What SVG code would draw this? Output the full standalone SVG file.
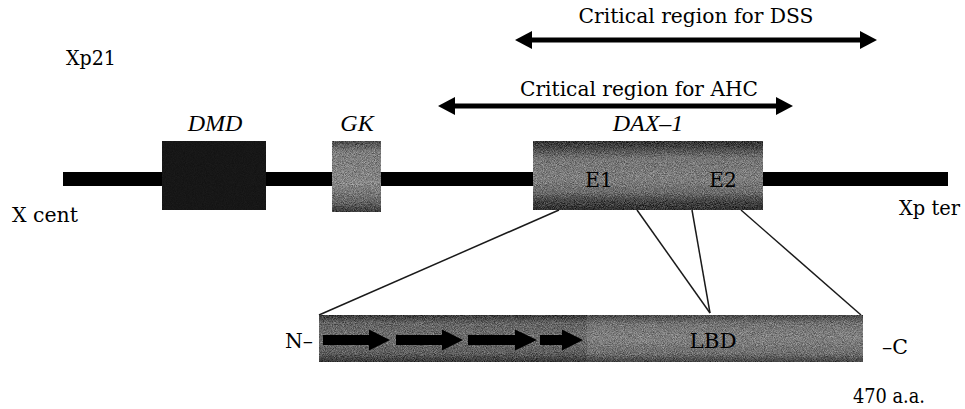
<svg xmlns="http://www.w3.org/2000/svg" width="965" height="409" viewBox="0 0 965 409">
<style>
  text { font-family: "DejaVu Serif", "Liberation Serif", serif; font-size: 20px; fill: #000; }
  .it { font-family: "Liberation Serif", "DejaVu Serif", serif; font-style: italic; font-size: 24px; }
  .conn { stroke: #1a1a1a; stroke-width: 1.5; fill: none; }
  .region { stroke: #000; stroke-width: 5; fill: none; marker-start: url(#head); marker-end: url(#head); }
  .parr { fill: #000; }
</style>
<defs>
  <marker id="head" markerUnits="userSpaceOnUse" markerWidth="17" markerHeight="18" refX="7" refY="9" orient="auto-start-reverse" viewBox="0 0 17 18">
    <path d="M0,0 L17,9 L0,18 Z" fill="#000"/>
  </marker>
  <filter id="grain" x="0%" y="0%" width="100%" height="100%" color-interpolation-filters="sRGB">
    <feTurbulence type="fractalNoise" baseFrequency="1.1" numOctaves="2" seed="7" result="t"/>
    <feColorMatrix in="t" type="matrix" values="1.6 0 0 0 -0.3  1.6 0 0 0 -0.3  1.6 0 0 0 -0.3  0 0 0 0 0.35" result="g"/>
    <feComposite in="g" in2="SourceGraphic" operator="in" result="gc"/>
    <feMerge><feMergeNode in="SourceGraphic"/><feMergeNode in="gc"/></feMerge>
  </filter>
  <filter id="grainDark" x="0%" y="0%" width="100%" height="100%" color-interpolation-filters="sRGB">
    <feTurbulence type="fractalNoise" baseFrequency="1.1" numOctaves="2" seed="3" result="t"/>
    <feColorMatrix in="t" type="matrix" values="0.5 0 0 0 0  0.5 0 0 0 0  0.5 0 0 0 0  0 0 0 0 0.12" result="g"/>
    <feComposite in="g" in2="SourceGraphic" operator="in" result="gc"/>
    <feMerge><feMergeNode in="SourceGraphic"/><feMergeNode in="gc"/></feMerge>
  </filter>
  <linearGradient id="gDax" x1="0" y1="0" x2="0" y2="1">
    <stop offset="0" stop-color="#050505"/>
    <stop offset="0.08" stop-color="#222"/>
    <stop offset="0.25" stop-color="#6e6e6e"/>
    <stop offset="0.55" stop-color="#7c7c7c"/>
    <stop offset="0.75" stop-color="#5e5e5e"/>
    <stop offset="0.88" stop-color="#202020"/>
    <stop offset="1" stop-color="#080808"/>
  </linearGradient>
  <linearGradient id="gGk" x1="0" y1="0" x2="0" y2="1">
    <stop offset="0" stop-color="#2a2a2a"/>
    <stop offset="0.15" stop-color="#7a7a7a"/>
    <stop offset="0.6" stop-color="#8a8a8a"/>
    <stop offset="0.85" stop-color="#5a5a5a"/>
    <stop offset="1" stop-color="#151515"/>
  </linearGradient>
  <linearGradient id="gN" x1="0" y1="0" x2="0" y2="1">
    <stop offset="0" stop-color="#111"/>
    <stop offset="0.18" stop-color="#555"/>
    <stop offset="0.5" stop-color="#646464"/>
    <stop offset="0.82" stop-color="#4a4a4a"/>
    <stop offset="1" stop-color="#0e0e0e"/>
  </linearGradient>
  <linearGradient id="gL" x1="0" y1="0" x2="0" y2="1">
    <stop offset="0" stop-color="#2a2a2a"/>
    <stop offset="0.2" stop-color="#6e6e6e"/>
    <stop offset="0.5" stop-color="#808080"/>
    <stop offset="0.82" stop-color="#646464"/>
    <stop offset="1" stop-color="#222"/>
  </linearGradient>
</defs>
<rect width="965" height="409" fill="#fff"/>

<g id="labels">
  <text x="66" y="65" textLength="50" lengthAdjust="spacingAndGlyphs">Xp21</text>
  <text x="12" y="222" textLength="66" lengthAdjust="spacingAndGlyphs">X cent</text>
  <text x="899" y="215" textLength="61" lengthAdjust="spacingAndGlyphs">Xp ter</text>
</g>

<g id="chromosome">
  <rect x="63" y="172" width="885" height="14" fill="#000"/>
</g>

<g id="DMD">
  <rect x="162" y="141" width="104" height="69" fill="#121212" filter="url(#grainDark)"/>
  <text class="it" x="215" y="131" text-anchor="middle">DMD</text>
</g>

<g id="GK">
  <rect x="332" y="141" width="49" height="71" fill="url(#gGk)" filter="url(#grain)"/>
  <text class="it" x="357" y="131" text-anchor="middle">GK</text>
</g>

<g id="DAX1">
  <rect x="533" y="141" width="230" height="69" fill="url(#gDax)" filter="url(#grain)"/>
  <text class="it" x="648" y="131" text-anchor="middle" font-size="23">DAX–1</text>
  <text x="599" y="187" text-anchor="middle">E1</text>
  <text x="723" y="187" text-anchor="middle">E2</text>
</g>

<g id="regions">
  <line class="region" x1="525" y1="40" x2="867" y2="40"/>
  <text x="696" y="23" text-anchor="middle" textLength="235" lengthAdjust="spacingAndGlyphs">Critical region for DSS</text>
  <line class="region" x1="448" y1="106" x2="783" y2="106"/>
  <text x="639" y="96" text-anchor="middle" textLength="238" lengthAdjust="spacingAndGlyphs">Critical region for AHC</text>
</g>

<g id="connectors">
  <line class="conn" x1="559" y1="210" x2="319" y2="315"/>
  <line class="conn" x1="637" y1="210" x2="710" y2="313"/>
  <line class="conn" x1="692" y1="210" x2="710" y2="313"/>
  <line class="conn" x1="741" y1="210" x2="861" y2="315"/>
</g>

<g id="protein">
  <rect x="319" y="315" width="268" height="47" fill="url(#gN)" filter="url(#grain)"/>
  <rect x="587" y="315" width="276" height="47" fill="url(#gL)" filter="url(#grain)"/>
  <path class="parr" d="M323,335 H369 V329.5 L390,340 L369,350.5 V345 H323 Z"/>
  <path class="parr" d="M396,335 H442 V329.5 L463,340 L442,350.5 V345 H396 Z"/>
  <path class="parr" d="M468,335 H515 V329.5 L537,340 L515,350.5 V345 H468 Z"/>
  <path class="parr" d="M540,335 H562 V329.5 L583,340 L562,350.5 V345 H540 Z"/>
  <text x="713" y="348" text-anchor="middle" textLength="47" lengthAdjust="spacingAndGlyphs">LBD</text>
  <text x="285" y="348" textLength="28" lengthAdjust="spacingAndGlyphs">N–</text>
  <text x="882" y="354" textLength="26" lengthAdjust="spacingAndGlyphs">–C</text>
  <text x="853" y="403" font-size="19" textLength="72" lengthAdjust="spacingAndGlyphs">470 a.a.</text>
</g>
</svg>
